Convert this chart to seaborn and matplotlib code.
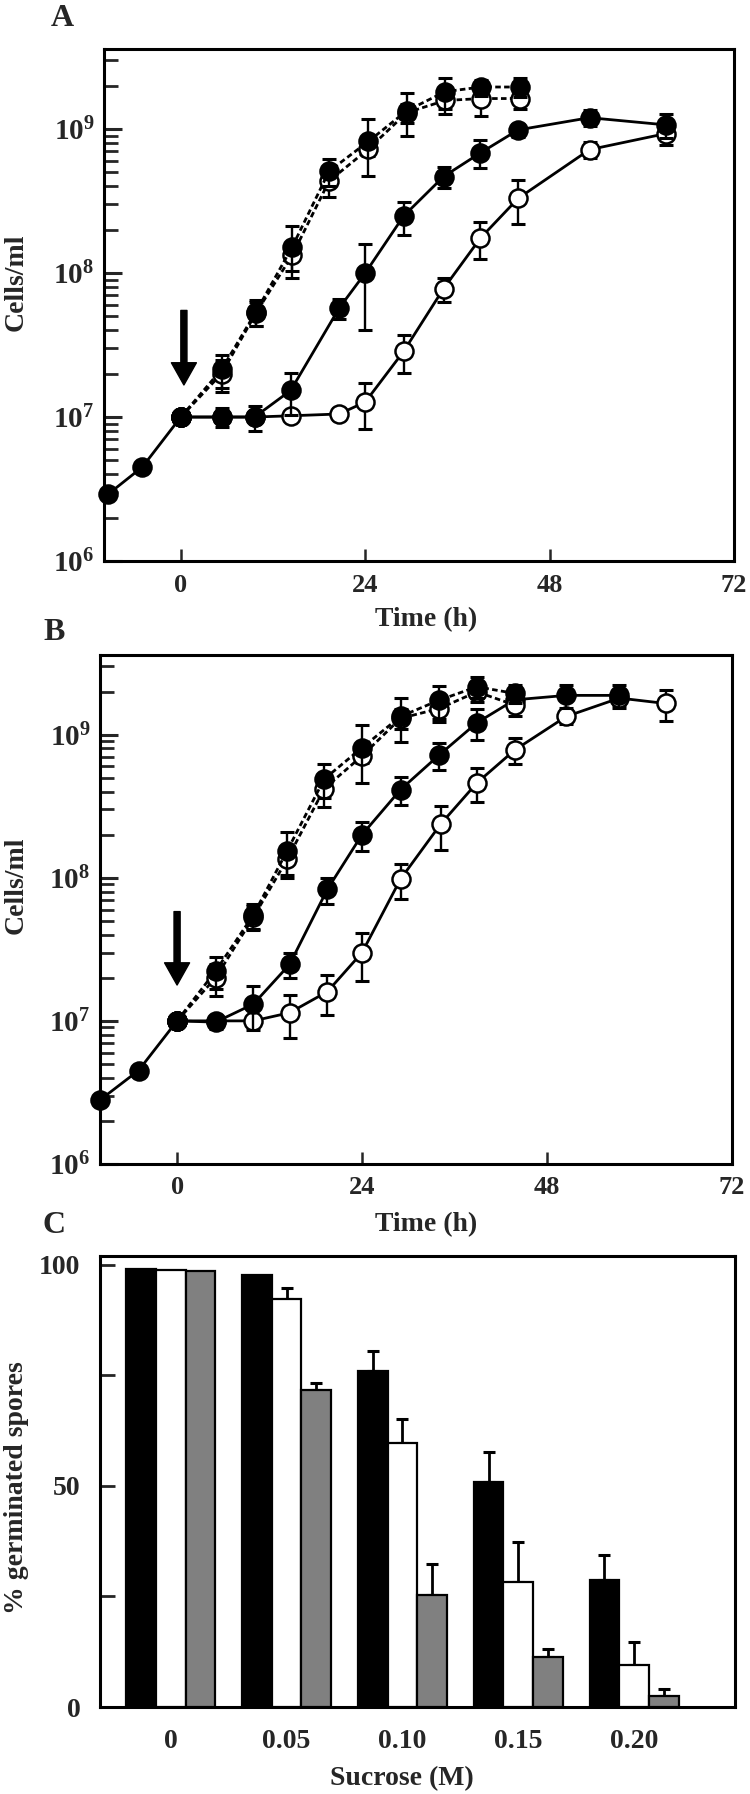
import numpy as np
import pandas as pd
import matplotlib
matplotlib.use("Agg")
import matplotlib.pyplot as plt
import seaborn as sns
from matplotlib.ticker import FixedLocator, FixedFormatter, LogLocator, NullFormatter

# ---------------- data: panel A ----------------
a_pre_t = [-9.5, -5, 0]
a_pre_y = [2.9e6, 4.5e6, 1.0e7]

a_fast_t = [0, 5.3, 9.8, 14.5, 19.3, 24.4, 29.4, 34.4, 39.1, 44.1]
a_fast_filled_y = [1e7, 2.14e7, 5.4e7, 1.52e8, 5.1e8, 8.2e8, 1.34e9, 1.82e9, 1.96e9, 1.96e9]
a_fast_filled_e = [0, 0.55e7, 1.1e7, 0.6e8, 1.1e8, 0.35e9, 0.45e9, 0.45e9, 0.25e9, 0.3e9]
a_fast_open_y = [1e7, 2.0e7, 5.3e7, 1.33e8, 4.36e8, 7.26e8, 1.3e9, 1.58e9, 1.63e9, 1.63e9]
a_fast_open_e = [0, 0.5e7, 1.0e7, 0.3e8, 1.0e8, 0.8e8, 0.2e9, 0.3e9, 0.4e9, 0.25e9]

a_slow_filled_t = [0, 5.4, 9.6, 14.3, 20.6, 24, 29, 34.2, 39, 43.9, 53.2, 63.1]
a_slow_filled_y = [1e7, 1e7, 1e7, 1.53e7, 5.7e7, 1.0e8, 2.49e8, 4.68e8, 6.84e8, 9.87e8, 1.2e9, 1.07e9]
a_slow_filled_e = [0, 0.15e7, 0.2e7, 0.5e7, 0.9e7, 0.6e8, 0.65e8, 0.8e8, 1.5e8, 1.0e8, 1.5e8, 2.0e8]
a_slow_open_t = [0, 5.4, 9.6, 14.3, 20.6, 24, 29, 34.2, 39, 43.9, 53.2, 63.1]
a_slow_open_y = [1e7, 1e7, 1e7, 1.02e7, 1.05e7, 1.27e7, 2.86e7, 7.8e7, 1.75e8, 3.3e8, 7.2e8, 9.3e8]
a_slow_open_e = [0, 0, 0, 0.08e7, 0.1e7, 0.45e7, 0.85e7, 1.5e7, 0.5e8, 1.1e8, 0.9e8, 1.5e8]

# ---------------- data: panel B ----------------
b_pre_t = [-10, -5, 0]
b_pre_y = [2.8e6, 4.5e6, 1.0e7]

b_fast_t = [0, 5, 9.9, 14.3, 19.1, 24, 29, 34, 38.9, 43.8]
b_fast_filled_y = [1e7, 2.23e7, 5.5e7, 1.55e8, 4.9e8, 8.1e8, 1.34e9, 1.74e9, 2.16e9, 1.94e9]
b_fast_filled_e = [0, 0.55e7, 1.1e7, 0.55e8, 1.3e8, 0.35e9, 0.45e9, 0.45e9, 0.35e9, 0.27e9]
b_fast_open_y = [1e7, 2.0e7, 5.3e7, 1.35e8, 4.2e8, 7.1e8, 1.3e9, 1.52e9, 1.99e9, 1.61e9]
b_fast_open_e = [0, 0.5e7, 1.0e7, 0.3e8, 1.1e8, 0.8e8, 0.2e9, 0.3e9, 0.3e9, 0.25e9]

b_slow_filled_t = [0, 5, 9.9, 14.6, 19.5, 24, 29, 34, 38.9, 43.8, 50.5, 57.4]
b_slow_filled_y = [1e7, 9.8e6, 1.31e7, 2.48e7, 8.3e7, 2.0e8, 4.13e8, 7.2e8, 1.21e9, 1.75e9, 1.88e9, 1.88e9]
b_slow_filled_e = [0, 0.1e7, 0.45e7, 0.5e7, 1.7e7, 0.45e8, 0.9e8, 1.5e8, 0.3e9, 0.2e9, 0.35e9, 0.35e9]
b_slow_open_t = [0, 5, 9.9, 14.6, 19.5, 24, 29, 34.2, 38.9, 43.8, 50.5, 57.4, 63.4]
b_slow_open_y = [1e7, 1e7, 1e7, 1.14e7, 1.6e7, 3.0e7, 9.8e7, 2.37e8, 4.6e8, 7.8e8, 1.34e9, 1.8e9, 1.65e9]
b_slow_open_e = [0, 0, 0.05e7, 0.38e7, 0.5e7, 1.1e7, 0.27e8, 0.8e8, 1.2e8, 1.6e8, 1.5e8, 2.0e8, 0.4e9]

time_ticks = [0, 24, 48, 72]
decades = [1e6, 1e7, 1e8, 1e9]
decade_labels = [r"$\mathbf{10^{6}}$", r"$\mathbf{10^{7}}$", r"$\mathbf{10^{8}}$", r"$\mathbf{10^{9}}$"]

# ---------------- data: panel C ----------------
sucrose = ["0", "0.05", "0.10", "0.15", "0.20"]
c_black = [99.0, 97.6, 75.9, 50.9, 28.7]
c_black_e = [0, 0, 4.7, 6.7, 5.6]
c_white = [98.8, 92.2, 59.6, 28.3, 9.5]
c_white_e = [0, 2.6, 5.6, 9.0, 5.1]
c_gray = [98.7, 71.6, 25.4, 11.4, 2.4]
c_gray_e = [0, 1.7, 7.0, 1.7, 1.7]
c_conditions = ["black", "white", "gray"]

# ---------------- style ----------------
sns.set_style("white")
plt.rcParams["font.family"] = ["Liberation Serif", "DejaVu Serif"]
plt.rcParams["font.weight"] = "bold"
plt.rcParams["axes.labelweight"] = "bold"
plt.rcParams["mathtext.fontset"] = "custom"
plt.rcParams["mathtext.rm"] = "Liberation Serif:bold"
plt.rcParams["mathtext.bf"] = "Liberation Serif:bold"
plt.rcParams["mathtext.it"] = "Liberation Serif:bold"

TICK_FS = 19
YTICK_FS = 21
LABEL_FS = 20
LETTER_FS = 23
LW = 2.0
MS = 13

fig = plt.figure(figsize=(7.5, 17.94), dpi=100)
axA = fig.add_axes([104 / 750, (1794 - 561) / 1794, 630 / 750, 512 / 1794])
axB = fig.add_axes([100 / 750, (1794 - 1164) / 1794, 632 / 750, 509 / 1794])
axC = fig.add_axes([100 / 750, (1794 - 1707) / 1794, 635 / 750, 451 / 1794])


def draw_series(ax, t, y, e, filled, dashed, z):
    ax.errorbar(t, y, yerr=e, fmt="none", ecolor="black", elinewidth=1.7,
                capsize=5, capthick=2.2, zorder=z - 0.5, clip_on=False)
    ls = (0, (2.0, 1.2)) if dashed else "-"
    sns.lineplot(x=t, y=y, ax=ax, color="black", linewidth=LW, linestyle=ls,
                 marker="o", markersize=MS,
                 markerfacecolor="black" if filled else "white",
                 markeredgecolor="black", markeredgewidth=1.8,
                 errorbar=None, sort=False, zorder=z, clip_on=False)


def growth_panel(ax, pre_t, pre_y, fast_t, ff_y, ff_e, fo_y, fo_e,
                 sf_t, sf_y, sf_e, so_t, so_y, so_e, xleft, arrow_x, arrow_top, arrow_bot):
    draw_series(ax, so_t, so_y, so_e, False, False, 3)
    draw_series(ax, sf_t, sf_y, sf_e, True, False, 4)
    draw_series(ax, fast_t, fo_y, fo_e, False, True, 5)
    draw_series(ax, fast_t, ff_y, ff_e, True, True, 6)
    sns.lineplot(x=pre_t, y=pre_y, ax=ax, color="black", linewidth=LW,
                 marker="o", markersize=MS, markerfacecolor="black",
                 markeredgecolor="black", markeredgewidth=1.8,
                 errorbar=None, sort=False, zorder=7, clip_on=False)
    ax.annotate("", xy=(arrow_x, arrow_bot), xytext=(arrow_x, arrow_top),
                arrowprops=dict(width=4.4, headwidth=18, headlength=16,
                                shrink=0, color="black"))
    ax.set_yscale("log")
    ax.set_ylim(1e6, 3.6e9)
    ax.set_xlim(xleft, 72)
    ax.yaxis.set_major_locator(FixedLocator(decades))
    ax.yaxis.set_major_formatter(FixedFormatter(decade_labels))
    ax.yaxis.set_minor_locator(LogLocator(base=10, subs=range(2, 10)))
    ax.yaxis.set_minor_formatter(NullFormatter())
    ax.set_xticks(time_ticks)
    ax.set_xticklabels([str(v) for v in time_ticks])
    ax.tick_params(axis="y", which="major", direction="in", length=13, width=2.2,
                   labelsize=YTICK_FS, pad=7, left=True, right=False)
    ax.tick_params(axis="y", which="minor", direction="in", length=10, width=2.0,
                   left=True, right=False)
    ax.tick_params(axis="x", which="major", direction="in", length=9, width=1.8,
                   labelsize=TICK_FS, pad=9, bottom=True, top=False)
    for s in ax.spines.values():
        s.set_linewidth(2.2)
        s.set_color("black")
    ax.set_xlabel("Time (h)", fontsize=LABEL_FS, fontweight="bold")
    ax.set_ylabel("Cells/ml", fontsize=LABEL_FS, fontweight="bold")


growth_panel(axA, a_pre_t, a_pre_y, a_fast_t, a_fast_filled_y, a_fast_filled_e,
             a_fast_open_y, a_fast_open_e, a_slow_filled_t, a_slow_filled_y, a_slow_filled_e,
             a_slow_open_t, a_slow_open_y, a_slow_open_e, -10, 0.4, 5.5e7, 1.67e7)
growth_panel(axB, b_pre_t, b_pre_y, b_fast_t, b_fast_filled_y, b_fast_filled_e,
             b_fast_open_y, b_fast_open_e, b_slow_filled_t, b_slow_filled_y, b_slow_filled_e,
             b_slow_open_t, b_slow_open_y, b_slow_open_e, -10, 0.0, 5.8e7, 1.78e7)

axA.xaxis.set_label_coords(0.511, -0.090)
axA.yaxis.set_label_coords(-0.119, 0.545)
axB.xaxis.set_label_coords(0.516, -0.094)
axB.yaxis.set_label_coords(-0.113, 0.548)

# ---------------- panel C ----------------
rows = []
for cond, vals in zip(c_conditions, [c_black, c_white, c_gray]):
    for s, v in zip(sucrose, vals):
        rows.append({"sucrose": s, "cond": cond, "pct": v})
dfC = pd.DataFrame(rows)
sns.barplot(data=dfC, x="sucrose", y="pct", hue="cond", order=sucrose,
            hue_order=c_conditions,
            palette={"black": "black", "white": "white", "gray": "#808080"},
            width=0.77, gap=0, edgecolor="black", linewidth=1.6,
            errorbar=None, legend=False, ax=axC, zorder=3)
for cont, errs, vals in zip(axC.containers, [c_black_e, c_white_e, c_gray_e],
                            [c_black, c_white, c_gray]):
    xs = [b.get_x() + b.get_width() / 2 for b in cont]
    ex, ey, ee = [], [], []
    for x, v, e in zip(xs, vals, errs):
        if e > 0:
            ex.append(x); ey.append(v); ee.append(e)
    axC.errorbar(ex, ey, yerr=[np.zeros(len(ee)), ee], fmt="none", ecolor="black",
                 elinewidth=2.0, capsize=4, capthick=2.2, zorder=2)
axC.set_xlim(-0.61, 4.87)
axC.set_ylim(0, 102)
axC.set_yticks([0, 25, 50, 75, 100])
axC.set_yticklabels(["0", "", "50", "", "100"])
axC.tick_params(axis="y", direction="in", length=11, width=2.0, labelsize=TICK_FS + 1,
                pad=14, left=True, right=False)
axC.tick_params(axis="x", length=0, labelsize=TICK_FS + 1, pad=16)
for s in axC.spines.values():
    s.set_linewidth(2.2)
    s.set_color("black")
axC.set_xlabel("Sucrose (M)", fontsize=LABEL_FS, fontweight="bold")
axC.set_ylabel("% germinated spores", fontsize=LABEL_FS, fontweight="bold")
axC.xaxis.set_label_coords(0.476, -0.130)
axC.yaxis.set_label_coords(-0.112, 0.486)

# panel letters
fig.text(62 / 750, 1 - 18 / 1794, "A", fontsize=LETTER_FS, fontweight="bold", ha="center", va="center")
fig.text(54 / 750, 1 - 633 / 1794, "B", fontsize=LETTER_FS, fontweight="bold", ha="center", va="center")
fig.text(54 / 750, 1 - 1225 / 1794, "C", fontsize=LETTER_FS, fontweight="bold", ha="center", va="center")

fig.savefig("out.png", dpi=100)
